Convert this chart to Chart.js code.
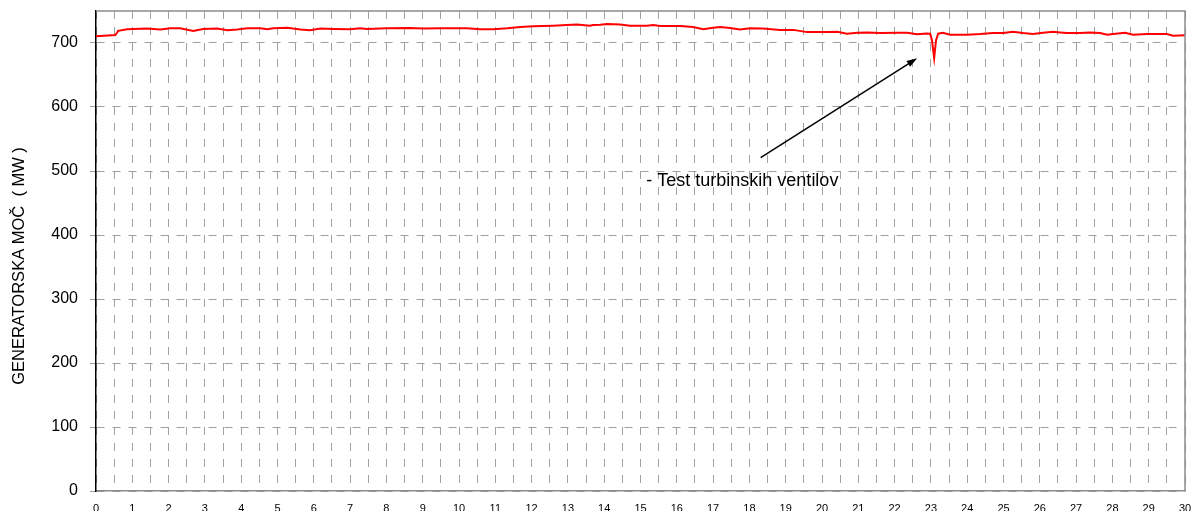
<!DOCTYPE html>
<html>
<head>
<meta charset="utf-8">
<script src="https://cdn.jsdelivr.net/npm/chart.js@4/dist/chart.umd.min.js"></script>
<style>
  html, body { margin: 0; padding: 0; background: #fff; }
  #wrap { width: 1191px; height: 511px; position: relative; }
</style>
</head>
<body>
<div id="wrap"><canvas id="c"></canvas></div>
<script>
// Generatorska moč čez mesec, odčitano s slike (dan, MW)
const days = [0, 0.53, 0.58, 0.61, 0.86, 1.41, 1.77, 2.05, 2.32, 2.68, 2.95, 3.34, 3.62, 3.89, 4.17, 4.53, 4.72, 4.88, 5.27, 5.43,
  5.63, 5.90, 6.18, 6.54, 7.00, 7.28, 7.47, 8.02, 8.65, 9.01, 9.48, 10.22, 10.58, 10.94, 11.33, 11.69, 12.04, 12.59, 12.97, 13.25,
  13.61, 13.69, 13.89, 14.08, 14.44, 14.71, 15.18, 15.35, 15.54, 16.09, 16.45, 16.73, 17.00, 17.19, 17.47, 17.74, 18.02, 18.37, 18.85, 19.21,
  19.59, 20.14, 20.42, 20.69, 20.97, 21.24, 21.60, 22.07, 22.34, 22.62, 22.89, 22.98, 23.03, 23.09, 23.14, 23.20, 23.33, 23.53, 24.00, 24.36,
  24.71, 24.99, 25.26, 25.54, 25.81, 26.09, 26.36, 26.56, 26.75, 27.11, 27.38, 27.66, 27.86, 28.02, 28.35, 28.57, 28.95, 29.31, 29.50, 29.67, 30];
const powerMW = [710.5, 712.5, 716, 719, 721.5, 722.5, 721, 723, 723, 718.75, 722, 722.5, 720, 721, 723, 723, 721.5, 723, 724, 722.5,
  721, 720, 722.5, 722, 721.5, 723, 722, 723, 723.5, 722.5, 723, 723, 721.5, 721.5, 723, 725, 726, 727, 728, 729,
  727, 728, 728.5, 729.5, 729, 727, 727, 728, 726.5, 726.5, 725, 721.5, 724, 725, 723.5, 721, 723, 722.5, 720.5, 720.5,
  717, 717, 717.5, 714.5, 716, 716.5, 715.5, 716, 716, 713.5, 715, 714.5, 704, 676.5, 704, 714.5, 716, 713, 713, 714,
  715.5, 715.5, 717.5, 715.5, 714, 716, 717.5, 716.5, 715.5, 715.5, 716.5, 715.5, 713, 714, 716, 713, 714, 714, 714, 711.5, 712];
const yTicks = [0, 100, 200, 300, 400, 500, 600, 700];

const yTitle = "GENERATORSKA MOČ  ( MW )";
const noteText = "- Test turbinskih ventilov";
const arrowFrom = { x: 18.31, y: 521 };
const arrowTo = { x: 22.62, y: 676 };
const notePos = { x: 15.16, y: 484 };

const FONT = "'Liberation Sans', Arial, sans-serif";

// okvir zgoraj/desno, naslov osi Y + puščica z opombo
const extras = {
  id: "extras",
  afterDatasetsDraw(chart) {
    const { ctx, chartArea: a, scales: { x, y } } = chart;
    ctx.save();
    ctx.strokeStyle = "#8c8c8c";
    ctx.lineWidth = 1.5;
    ctx.beginPath();
    ctx.moveTo(a.left, a.top); ctx.lineTo(a.right, a.top); ctx.lineTo(a.right, a.bottom);
    ctx.stroke();

    // naslov osi, malo pod sredino kot na originalu
    ctx.save();
    ctx.translate(19, 266);
    ctx.rotate(-Math.PI / 2);
    ctx.font = "16.5px " + FONT;
    ctx.fillStyle = "#000";
    ctx.textAlign = "center";
    ctx.textBaseline = "middle";
    ctx.fillText(yTitle, 0, 0);
    ctx.restore();

    const x0 = x.getPixelForValue(arrowFrom.x), y0 = y.getPixelForValue(arrowFrom.y);
    const x1 = x.getPixelForValue(arrowTo.x), y1 = y.getPixelForValue(arrowTo.y);
    const ang = Math.atan2(y1 - y0, x1 - x0);
    ctx.strokeStyle = "#000";
    ctx.lineWidth = 1.5;
    ctx.beginPath();
    ctx.moveTo(x0, y0);
    ctx.lineTo(x1 - 8 * Math.cos(ang), y1 - 8 * Math.sin(ang));
    ctx.stroke();
    ctx.fillStyle = "#000";
    ctx.beginPath();
    ctx.moveTo(x1, y1);
    ctx.lineTo(x1 - 11 * Math.cos(ang - 0.32), y1 - 11 * Math.sin(ang - 0.32));
    ctx.lineTo(x1 - 11 * Math.cos(ang + 0.32), y1 - 11 * Math.sin(ang + 0.32));
    ctx.closePath();
    ctx.fill();

    ctx.font = "18px " + FONT;
    ctx.textBaseline = "middle";
    ctx.fillText(noteText, x.getPixelForValue(notePos.x), y.getPixelForValue(notePos.y));
    ctx.restore();
  }
};

new Chart(document.getElementById("c"), {
  type: "line",
  data: {
    datasets: [{
      data: days.map((d, i) => ({ x: d, y: powerMW[i] })),
      borderColor: "#ff0000",
      borderWidth: 2,
      pointRadius: 0,
      tension: 0,
    }],
  },
  options: {
    responsive: true,
    maintainAspectRatio: false,
    animation: false,
    layout: { padding: { top: 11, right: 6, left: 0, bottom: 0 } },
    plugins: { legend: { display: false }, tooltip: { enabled: false } },
    scales: {
      x: {
        type: "linear",
        min: 0, max: 30,
        border: { color: "#8c8c8c", width: 1.5, dash: [8, 8] },
        grid: { color: "#a0a0a0", drawTicks: false },
        afterBuildTicks: (s) => { s.ticks = Array.from({ length: 61 }, (_, i) => ({ value: i / 2 })); },
        ticks: {
          autoSkip: false, maxRotation: 0, padding: 11,
          color: "#000", font: { family: FONT, size: 11 },
          callback: (v) => (Number.isInteger(v) ? v : ""),
        },
        afterFit: (s) => { s.height = 20; s.paddingLeft = 0; s.paddingRight = 0; },
      },
      y: {
        min: 0, max: 750,
        border: { color: "#000", width: 1.5, dash: [8, 8] },
        grid: { color: "#a0a0a0", tickLength: 6 },
        afterBuildTicks: (s) => { s.ticks = yTicks.map((v) => ({ value: v })); },
        ticks: { padding: 12, color: "#000", font: { family: FONT, size: 16 } },
        afterFit: (s) => { s.width = 96; s.paddingTop = 0; s.paddingBottom = 0; },
      },
    },
  },
  plugins: [extras],
});
</script>
</body>
</html>
